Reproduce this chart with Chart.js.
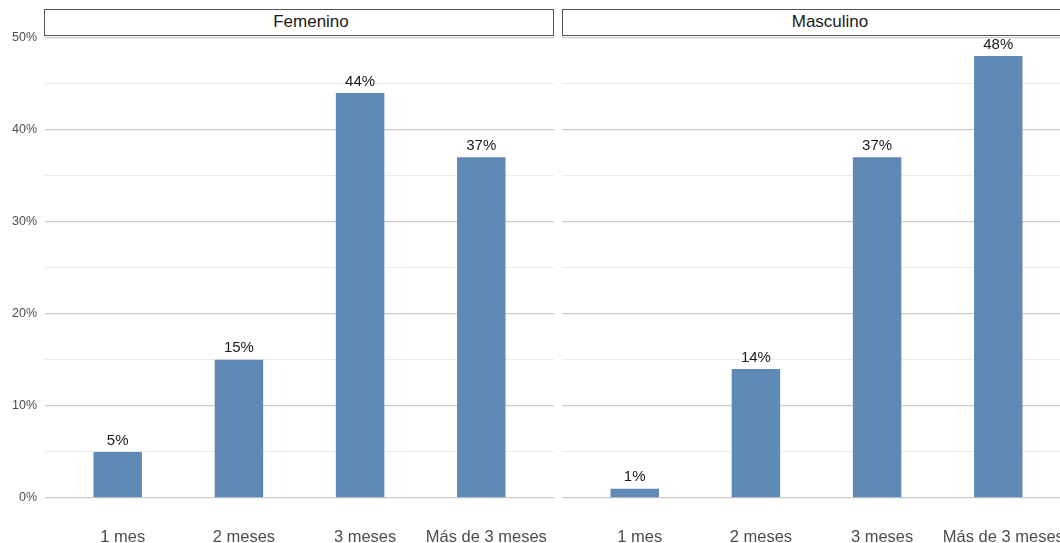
<!DOCTYPE html>
<html>
<head>
<meta charset="utf-8">
<script src="https://cdn.jsdelivr.net/npm/chart.js@4"></script>
<style>
  html, body { margin: 0; padding: 0; background: #fff; overflow: hidden; }
  body { width: 1060px; height: 543px; position: relative; font-family: "Liberation Sans", Arial, sans-serif; }
  .panel { position: absolute; top: 0; height: 543px; }
  .strip {
    position: absolute; top: 9px; height: 27px; box-sizing: border-box;
    border: 1.3px solid #555; background: #fff; color: #1a1a1a;
    font-size: 17px; line-height: 24px; text-align: center; padding-left: 24px;
  }
</style>
</head>
<body>
<div class="panel" style="left:0;width:554px"><canvas id="femChart"></canvas></div>
<div class="panel" style="left:562px;width:509px"><canvas id="masChart"></canvas></div>
<div class="strip" style="left:44px;width:510px">Femenino</div>
<div class="strip" style="left:562px;width:512px">Masculino</div>
<script>
// categories and values (percent)
const categories = ['1 mes', '2 meses', '3 meses', 'Más de 3 meses'];
const femenino = [5, 15, 44, 37];
const masculino = [1, 14, 37, 48];
const yTicks = [0, 5, 10, 15, 20, 25, 30, 35, 40, 45, 50];

const barColor = '#5f8ab5';

// labels above each bar
const valueLabels = {
    id: 'valueLabels',
    afterDatasetsDraw(chart) {
        const ctx = chart.ctx;
        const meta = chart.getDatasetMeta(0);
        ctx.save();
        ctx.font = '15px "Liberation Sans", Arial, sans-serif';
        ctx.fillStyle = '#1a1a1a';
        ctx.textAlign = 'center';
        ctx.textBaseline = 'bottom';
        meta.data.forEach((bar, i) => {
            const v = chart.data.datasets[0].data[i].y;
            ctx.fillText(v + '%', bar.x, bar.y - 4);
        });
        ctx.restore();
    }
};

function makeChart(id, values, showY) {
    const ctx = document.getElementById(id);
    return new Chart(ctx, {
        type: 'bar',
        data: {
            datasets: [{
                data: values.map((v, i) => ({ x: i, y: v })),
                backgroundColor: barColor,
                borderWidth: 0,
                categoryPercentage: 1,
                barPercentage: 0.4
            }]
        },
        options: {
            responsive: true,
            maintainAspectRatio: false,
            animation: false,
            layout: { padding: { top: 34, left: 0, right: 0, bottom: 0 } },
            plugins: {
                legend: { display: false },
                tooltip: { enabled: false }
            },
            scales: {
                x: {
                    type: 'linear',
                    offset: false,
                    min: -0.6,
                    max: 3.6,
                    afterBuildTicks: (scale) => {
                        scale.ticks = categories.map((_, i) => ({ value: i }));
                    },
                    afterFit: (scale) => { scale.height = 23; },
                    grid: { display: false, drawTicks: false, offset: false },
                    border: { display: false },
                    ticks: {
                        autoSkip: false,
                        maxRotation: 0,
                        padding: 8,
                        labelOffset: 5,
                        color: '#4d4d4d',
                        font: { size: 16.5, family: '"Liberation Sans", Arial, sans-serif' },
                        callback: (v) => categories[v]
                    }
                },
                y: {
                    min: -2.4,
                    max: 50.4,
                    afterBuildTicks: (scale) => {
                        scale.ticks = yTicks.map(v => ({ value: v }));
                    },
                    afterFit: (scale) => { scale.width = showY ? 45 : 0; },
                    border: { display: false },
                    grid: {
                        drawTicks: false,
                        color: (c) => (c.tick && c.tick.value % 10 === 0) ? '#cccccc' : '#ebebeb',
                        lineWidth: (c) => (c.tick && c.tick.value % 10 === 0) ? 1.2 : 1
                    },
                    ticks: {
                        display: showY,
                        padding: 8,
                        color: '#4d4d4d',
                        font: { size: 12.5, family: '"Liberation Sans", Arial, sans-serif' },
                        callback: (v) => v % 10 === 0 ? v + '%' : ''
                    }
                }
            }
        },
        plugins: [valueLabels]
    });
}

document.addEventListener('DOMContentLoaded', function() {
    makeChart('femChart', femenino, true);
    makeChart('masChart', masculino, false);
});
</script>
</body>
</html>
